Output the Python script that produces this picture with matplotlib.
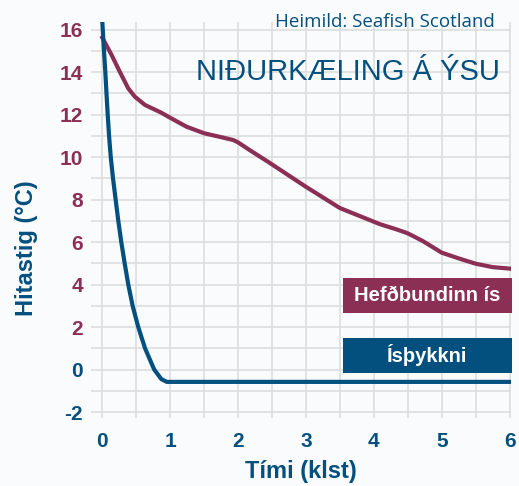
import numpy as np
import matplotlib
matplotlib.use("Agg")
import matplotlib.pyplot as plt
from matplotlib.patches import Rectangle
from matplotlib.ticker import MultipleLocator

# data
isthykkni_t = [0, 0.025, 0.045, 0.062, 0.08, 0.1, 0.125, 0.158, 0.197, 0.236, 0.28, 0.33,
               0.383, 0.447, 0.53, 0.63, 0.765, 0.87, 0.95, 6.0]
isthykkni_temp = [16.4, 15, 14, 13, 12, 11, 10, 9, 8, 7, 6, 5,
                  4, 3, 2, 1, 0, -0.45, -0.58, -0.58]

hefdbundinn_t = [0, 0.138, 0.26, 0.383, 0.48, 0.63, 0.874, 1.0, 1.24, 1.5, 1.76, 1.93, 2.0,
                 2.17, 2.44, 3.0, 3.5, 4.09, 4.33, 4.5, 4.72, 5.0, 5.26, 5.5, 5.75, 6.0]
hefdbundinn_temp = [15.62, 14.8, 14.0, 13.23, 12.84, 12.45, 12.08, 11.85, 11.43, 11.12, 10.93,
                    10.8, 10.69, 10.33, 9.78, 8.6, 7.6, 6.84, 6.6, 6.41, 6.05, 5.5, 5.22,
                    4.98, 4.82, 4.75]

x_ticks = [0, 1, 2, 3, 4, 5, 6]
y_ticks = [-2, 0, 2, 4, 6, 8, 10, 12, 14, 16]

series_names = ["Hefðbundinn ís", "Ísþykkni"]
title = "NIÐURKÆLING Á ÝSU"
source = "Heimild: Seafish Scotland"

MAROON = "#8B2F55"
BLUE = "#03507F"
BG = "#FAFBFC"
GRID = "#DDDDDD"

W, H = 519, 486
fig = plt.figure(figsize=(W / 100, H / 100), dpi=100, facecolor=BG)
plt.rcParams['font.family'] = ['Liberation Sans', 'DejaVu Sans']

# axes box in pixels
left, right, top, bottom = 91, 511, 21.7, 418
ax = fig.add_axes([left / W, 1 - bottom / H, (right - left) / W, (bottom - top) / H])
ax.set_facecolor(BG)

ax.plot(hefdbundinn_t, hefdbundinn_temp, color=MAROON, lw=3, solid_joinstyle="round", zorder=3)
ax.plot(isthykkni_t, isthykkni_temp, color=BLUE, lw=3, solid_joinstyle="round", zorder=4)

ax.set_xlim(-0.166, 6.02)
ax.set_ylim(-2.28, 16.37)

ax.set_xticks(x_ticks)
ax.set_yticks(y_ticks)
ax.xaxis.set_minor_locator(MultipleLocator(0.5))
ax.yaxis.set_minor_locator(MultipleLocator(1))
ax.grid(True, which="both", color=GRID, lw=1.2)
ax.set_axisbelow(True)
for s in ax.spines.values():
    s.set_visible(False)

ax.tick_params(which="both", length=0)
ax.tick_params(axis="x", pad=10)
ax.tick_params(axis="y", pad=5.8)
ax.set_xticklabels([str(v) for v in x_ticks], fontsize=15, fontweight="bold", color=BLUE)
ax.set_yticklabels([str(v) for v in y_ticks], fontsize=15, fontweight="bold")
for lab, v in zip(ax.get_yticklabels(), y_ticks):
    lab.set_color(BLUE if v <= 0 else MAROON)

fig.text(301 / W, 1 - 478 / H, "Tími (klst)", ha="center", va="baseline",
         fontsize=17, fontweight="bold", color=BLUE)
fig.text(26 / W, 1 - 248 / H, "Hitastig (°C)", ha="center", va="center", rotation=90,
         fontsize=17, fontweight="bold", color=BLUE)

fig.text(500 / W, 1 - 80 / H, title, ha="right", va="baseline", fontsize=21, color=BLUE)
fig.text(495 / W, 1 - 26.7 / H, source, ha="right", va="baseline", fontsize=13.5,
         color=BLUE, family=["Open Sans", "DejaVu Sans"])

# legend boxes
for name, col, y0 in [(series_names[0], MAROON, 277.7), (series_names[1], BLUE, 337.7)]:
    x0, x1, h = 342.7, 512.3, 35
    fig.patches.append(Rectangle((x0 / W, 1 - (y0 + h) / H), (x1 - x0) / W, h / H,
                                 transform=fig.transFigure, facecolor=col, edgecolor="none"))
    fig.text((x0 + x1) / 2 / W, 1 - (y0 + h / 2) / H, name, ha="center", va="center",
             fontsize=14.5, fontweight="bold", color="white")

fig.savefig("out.png", dpi=100, facecolor=BG)
